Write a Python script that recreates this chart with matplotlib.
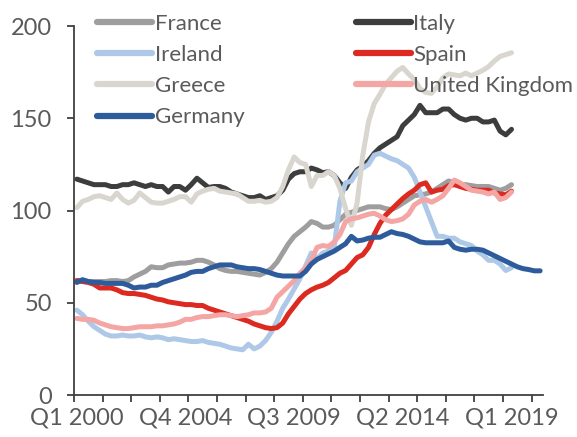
import matplotlib
matplotlib.use("Agg")
import matplotlib.pyplot as plt
from matplotlib.ticker import FixedLocator, NullFormatter

# quarters Q1 2000 .. Q2 2020
quarters = [f"Q{q} {y}" for y in range(2000, 2021) for q in range(1, 5)][:82]
tick_labels = ["Q1 2000", "Q4 2004", "Q3 2009", "Q2 2014", "Q1 2019"]

france = [62, 62, 61.5, 61.5, 61.5, 61.5, 62, 62, 61.5, 62, 64, 65.5, 67, 69.5, 69, 69,
          70.5, 71, 71.5, 71.5, 72, 73, 73, 72, 70.5, 68.5, 67.5, 67, 67, 66.5, 66, 65.5,
          65, 66.5, 68.5, 72, 77, 82, 86, 88.5, 91, 94, 93, 91, 91, 92, 95, 98, 99, 100,
          101, 102, 102, 102, 101, 100.5, 102, 104, 106, 108, 108.5, 109, 110, 112, 114,
          116, 115, 114, 114, 113.5, 113, 113, 113, 112, 111, 112, 114]
italy = [117, 116, 115, 114, 114, 114, 113, 113, 114, 114, 115, 114, 113, 114, 113, 113,
         110, 113, 113, 111, 114, 117.5, 115, 112.5, 113, 113, 112, 110, 109, 108, 107, 107,
         108, 106, 107, 108, 111, 117, 120, 121, 121, 123, 122, 120.5, 121, 119, 115, 112,
         118, 122, 124, 127, 131, 134, 136, 138, 140, 146, 149, 152, 157, 153, 153, 153,
         155, 155, 152, 150, 149, 150, 150, 148, 148, 149, 143, 141, 144]
ireland = [46, 43.5, 40, 37, 35, 33, 32, 32, 32.5, 32, 32, 32.5, 31.5, 31, 31.5, 31, 30,
           30.5, 30, 29.5, 29, 29, 29.5, 28.5, 28, 27.5, 26.5, 25.5, 25, 24.5, 27.5, 25,
           26.5, 29.5, 34, 40, 47, 52, 57.5, 63, 70, 77, 74, 77, 78, 80, 105, 115, 116, 121,
           123, 125, 130, 131, 129.5, 128, 127, 125, 123, 118, 110, 102, 94, 86, 86, 85, 85,
           83, 82, 81, 78, 76, 73, 73, 71, 67.5, 69]
spain = [62, 61.5, 61, 60, 58, 58, 58, 57, 55.5, 55, 55, 54.5, 54, 53, 52, 51.5, 50.5, 50,
         49.5, 49, 49, 48.5, 48.5, 47, 46, 45, 44, 43, 42, 41, 40, 38.5, 37.5, 36.5, 36,
         36.5, 39, 44, 48, 52, 55, 57, 58.5, 59.5, 61, 63.5, 66, 67.5, 71, 74.5, 76, 80, 87,
         93, 97.5, 100.5, 103.5, 106.5, 109, 111, 114, 115, 110, 111, 111.5, 113.5, 114,
         113, 112, 111.5, 111, 111, 111, 109.5, 109, 108.5, 110.5]
greece = [101.5, 105, 106, 107.5, 108, 107, 106, 109.5, 106, 104, 105.5, 109.5, 107, 104.5,
          104, 104, 105, 106, 107.5, 107.5, 104.5, 109, 110.5, 111.5, 112, 110.5, 110, 109.5,
          109, 107, 105, 105, 105.5, 104.5, 105, 107, 113, 122, 129, 126, 125, 113, 119, 119,
          121, 119, 112, 101, 92, 104, 130, 148, 158, 163, 168.5, 172, 175.5, 177.5, 174,
          171, 166, 164, 163.5, 167, 172, 174, 173.5, 173, 174.5, 173, 174.5, 176, 178, 181,
          183.5, 184.5, 185.5]
uk = [41.5, 41, 41, 40.5, 39, 38, 37, 36.5, 36, 36, 36.5, 37, 37, 37, 37.5, 37.5, 38, 38.5,
      39.5, 41, 41, 42, 42.5, 42.5, 43, 43.5, 43.5, 43, 42.5, 43, 43.5, 44.5, 44.5, 45, 47,
      53, 56, 59, 62, 66, 69, 73, 80, 81, 80.5, 83, 87, 94, 95.5, 96, 97, 98, 98.5, 97, 95,
      94, 94.5, 95.5, 98, 103, 105, 106, 104.5, 106, 108, 112, 116.5, 115, 113, 111, 110.5,
      110, 109, 110, 106, 107, 110]
germany = [61, 62.5, 61.5, 61, 61, 60.5, 60.5, 60.5, 60.5, 59.5, 58, 58.5, 58.5, 59.5, 59.5,
           61, 62, 63, 64, 65, 66.5, 67, 67, 68.5, 69.5, 70.5, 70.5, 70.5, 69.5, 69, 68.5,
           68.5, 68, 67, 66, 65, 64.5, 64.5, 64.5, 64.5, 67, 71, 73.5, 75, 76.5, 78, 80, 82,
           86, 83.5, 84, 85, 85.5, 85.5, 87, 88.5, 87.5, 87, 86, 84.5, 83, 82.5, 82.5, 82.5,
           82.5, 83.5, 80, 79, 78.5, 79, 79, 78.5, 77, 75.5, 74, 72.5, 71, 69.5, 68.5, 68,
           67.3, 67.3]

series = [
    ("France", france, "#9e9e9e"),
    ("Italy", italy, "#3d3d3d"),
    ("Ireland", ireland, "#aec8e8"),
    ("Spain", spain, "#dc2a20"),
    ("Greece", greece, "#d9d6d0"),
    ("United Kingdom", uk, "#f4a6a4"),
    ("Germany", germany, "#2d5b9b"),
]
# legend reads row by row: France/Italy, Ireland/Spain, ...
legend_order = ["France", "Ireland", "Greece", "Germany", "Italy", "Spain", "United Kingdom"]

plt.rcParams['font.family'] = ['Lato', 'DejaVu Sans']
text_color = "#5a5a5a"
axis_color = "#404040"

fig = plt.figure(figsize=(5.77, 4.37), dpi=100)
ax = fig.add_axes([0.1282, 0.0961, 0.8128, 0.8444])

lines = {}
for name, vals, col in series:
    lines[name], = ax.plot(range(len(vals)), vals, color=col, lw=3.6, label=name,
                           solid_joinstyle="round", solid_capstyle="round")

ax.set_xlim(-0.5, len(quarters) - 0.5)
ax.set_ylim(0, 200)
ax.set_yticks([0, 50, 100, 150, 200])

ax.xaxis.set_major_locator(FixedLocator([i - 0.5 for i in range(0, 81, 5)]))
ax.xaxis.set_major_formatter(NullFormatter())
ax.xaxis.set_minor_locator(FixedLocator([quarters.index(t) for t in tick_labels]))
ax.set_xticklabels(tick_labels, minor=True)

for s in ["top", "right"]:
    ax.spines[s].set_visible(False)
for s in ["left", "bottom"]:
    ax.spines[s].set_color(axis_color)
    ax.spines[s].set_linewidth(1.3)

ax.tick_params(axis="both", which="major", direction="out", length=5, width=1.3,
               color=axis_color, labelsize=17, labelcolor=text_color)
ax.tick_params(axis="y", pad=11)
ax.tick_params(axis="x", which="minor", length=0, pad=9, labelsize=17,
               labelcolor=text_color)

leg = ax.legend([lines[n] for n in legend_order], legend_order, ncol=2, frameon=False,
                loc="upper left", bbox_to_anchor=(0.168, 0.968),
                bbox_transform=fig.transFigure,
                fontsize=16, handlelength=2.5, handletextpad=0.1,
                labelspacing=0.5, columnspacing=5.0, borderpad=0,
                borderaxespad=0)
for t in leg.get_texts():
    t.set_color(text_color)
for h in leg.legend_handles:
    h.set_linewidth(4.5)
    h.set_solid_capstyle("round")

fig.savefig("out.png", dpi=100)
